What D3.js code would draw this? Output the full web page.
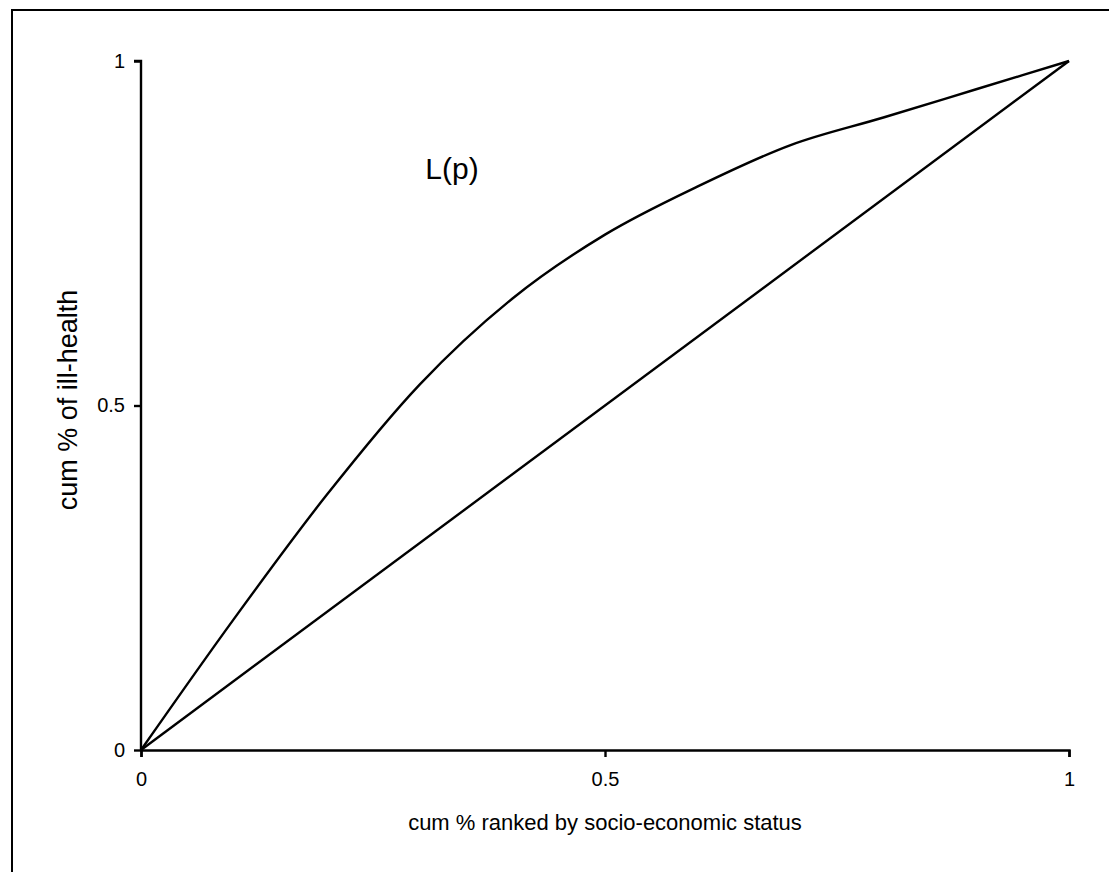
<!DOCTYPE html>
<html>
<head>
<meta charset="utf-8">
<script src="https://cdn.jsdelivr.net/npm/d3@7"></script>
<style>
  body { margin: 0; background: #fff; }
  svg { display: block; font-family: "Liberation Sans", Arial, sans-serif; }
  .tick text { font-size: 20px; font-family: "Liberation Sans", Arial, sans-serif; }
</style>
</head>
<body>
<div id="chart"></div>
<script>
// --- données ---
const pValues = [0, 0.1, 0.2, 0.3, 0.4, 0.5, 0.6, 0.7, 0.8, 0.9, 1];
const lValues = [0, 0.19, 0.37, 0.53, 0.655, 0.748, 0.818, 0.878, 0.918, 0.959, 1];
const egalite = [0, 1];
const xTicks = [0, 0.5, 1];
const yTicks = [0, 0.5, 1];

const largeur = 1109, hauteur = 872;
const marge = { left: 141, right: 40, top: 61, bottom: 122 };

const svg = d3.select("#chart").append("svg")
  .attr("width", largeur)
  .attr("height", hauteur);

// cadre autour du graphique (coupé à droite et en bas)
svg.append("rect")
  .attr("x", 12).attr("y", 10)
  .attr("width", largeur).attr("height", hauteur)
  .attr("fill", "none").attr("stroke", "#000").attr("stroke-width", 2);

const x = d3.scaleLinear().domain([0, 1]).range([marge.left, largeur - marge.right]);
const y = d3.scaleLinear().domain([0, 1]).range([hauteur - marge.bottom, marge.top]);

// axes
const axeX = svg.append("g")
  .attr("transform", `translate(0,${y(0)})`)
  .call(d3.axisBottom(x).tickValues(xTicks).tickFormat(d3.format("")).tickSize(7).tickPadding(15));
const axeY = svg.append("g")
  .attr("transform", `translate(${x(0)},0)`)
  .call(d3.axisLeft(y).tickValues(yTicks).tickFormat(d3.format("")).tickSize(7).tickPadding(9));

[axeX, axeY].forEach(a => {
  a.attr("font-size", 20);
  a.select(".domain").attr("stroke-width", 2.4);
  a.selectAll(".tick line").attr("stroke-width", 2.4);
});
axeY.select(".domain").attr("d", `M-7,${y(1)}H0V${y(0)}`);

// courbes
const ligne = d3.line().x(d => x(d[0])).y(d => y(d[1])).curve(d3.curveMonotoneX);

svg.append("path")
  .datum(pValues.map((p, i) => [p, lValues[i]]))
  .attr("d", ligne)
  .attr("fill", "none").attr("stroke", "#000").attr("stroke-width", 2.4);

svg.append("path")
  .datum(egalite.map(p => [p, p]))
  .attr("d", ligne)
  .attr("fill", "none").attr("stroke", "#000").attr("stroke-width", 2.4);

// textes
svg.append("text")
  .attr("x", x(0.5)).attr("y", 830)
  .attr("text-anchor", "middle").attr("font-size", 22)
  .text("cum % ranked by socio-economic status");

svg.append("text")
  .attr("transform", `translate(77,400) rotate(-90)`)
  .attr("text-anchor", "middle").attr("font-size", 27)
  .text("cum % of ill-health");

svg.append("text")
  .attr("x", 452).attr("y", 179)
  .attr("text-anchor", "middle").attr("font-size", 30)
  .text("L(p)");
</script>
</body>
</html>
